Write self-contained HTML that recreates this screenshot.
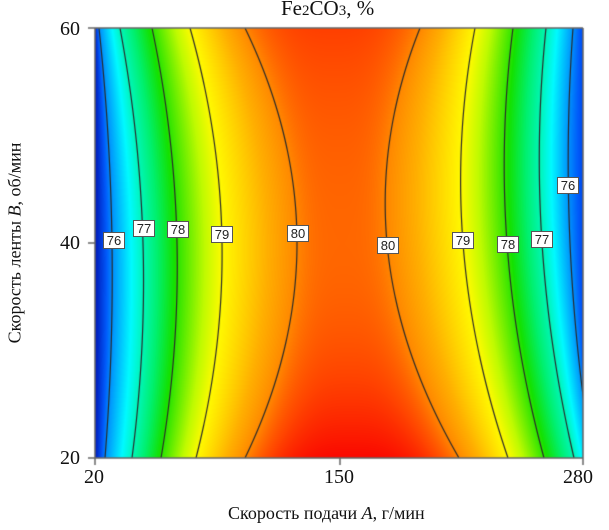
<!DOCTYPE html>
<html><head><meta charset="utf-8"><style>
body{margin:0;background:#fff;width:609px;height:530px;overflow:hidden;position:relative;font-family:"Liberation Serif",serif;}
canvas{position:absolute;left:0;top:0}
.t{position:absolute;font-size:19px;color:#111;white-space:nowrap}
.lb{position:absolute;background:#fff;border:1px solid #555;font:13px "Liberation Sans",sans-serif;width:20px;height:15px;line-height:15px;text-align:center;color:#222}
</style></head><body>
<canvas id="c" width="609" height="530"></canvas>
<div class="t" style="left:281px;top:-4px;font-size:21px">Fe<span style="font-size:15px">2</span>CO<span style="font-size:15px">3</span>, %</div>
<div class="t" style="left:60px;top:18px;font-size:20px">60</div>
<div class="t" style="left:60px;top:232px;font-size:20px">40</div>
<div class="t" style="left:60px;top:447px;font-size:20px">20</div>
<div class="t" style="left:84px;top:466px;font-size:20px">20</div>
<div class="t" style="left:324px;top:466px;font-size:20px">150</div>
<div class="t" style="left:563px;top:466px;font-size:20px">280</div>
<div class="t" style="left:228px;top:503px;font-size:18px">Скорость подачи <i>A</i>, г/мин</div>
<div class="t" style="left:15px;top:243px;font-size:18px;transform:translate(-50%,-50%) rotate(-90deg)">Скорость ленты <i>B</i>, об/мин</div>
<div class="lb" style="left:103px;top:232px">76</div>
<div class="lb" style="left:133px;top:220px">77</div>
<div class="lb" style="left:167px;top:221px">78</div>
<div class="lb" style="left:211px;top:226px">79</div>
<div class="lb" style="left:287px;top:225px">80</div>
<div class="lb" style="left:377px;top:237px">80</div>
<div class="lb" style="left:452px;top:232px">79</div>
<div class="lb" style="left:497px;top:236px">78</div>
<div class="lb" style="left:531px;top:231px">77</div>
<div class="lb" style="left:557px;top:177px">76</div>
<script>
const c=document.getElementById('c').getContext('2d');
const X0=95,X1=583,Y0=28,Y1=458,YM=243;
const L=[[76,99,112,105],[77,120,143,132],[78,152,177,161],[79,190,222,196],[80,245,297,245]];
const R=[[80,420,387,459],[79,475,463,508],[78,513,507,544],[77,546,542,574],[76,573,570,592]];
function qx(a,y){
 const tt=(y<YM)?(y-YM)/(YM-Y0):(y-YM)/(Y1-YM);
 const A=(a[1]+a[3])/2-a[2],B=(a[3]-a[1])/2;return a[2]+B*tt+A*tt*tt;}
const stops=[[75.2,[0,30,190]],[75.7,[0,90,250]],[76.6,[0,250,255]],[77.4,[0,240,110]],[77.9,[20,225,0]],[78.6,[190,250,0]],[79,[255,250,0]],[79.6,[255,175,0]],[80,[255,135,0]],[80.5,[255,70,0]],[81,[250,0,0]]];
function col(v){if(v<=stops[0][0])return stops[0][1];for(let i=1;i<stops.length;i++){if(v<=stops[i][0]){const a=stops[i-1],b=stops[i],f=(v-a[0])/(b[0]-a[0]);return a[1].map((q,k)=>q+(b[1][k]-q)*f);}}return stops[stops.length-1][1];}
const img=c.createImageData(X1-X0,Y1-Y0);
for(let y=Y0;y<Y1;y++){
 const pts=[[X0-1,75.1]];
 L.forEach(a=>pts.push([qx(a,y),a[0]]));
 const l80=qx(L[4],y),r80=qx(R[0],y);
 const tt=(y<YM)?(y-YM)/(YM-Y0):(y-YM)/(Y1-YM);
 const peak=80.25+(tt<0?0.3:0.7)*tt*tt;
 const rp=[];R.forEach(a=>rp.push([qx(a,y),a[0]]));rp.push([X1+1,75.5]);
 for(let x=X0;x<X1;x++){let v;
  if(x>l80&&x<r80){const cx=(l80+r80)/2,h=(r80-l80)/2,s=1-((x-cx)/h)**2;v=80+(peak-80)*(1-(1-s)**1.5);}
  else{const arr=x<=l80?pts.concat([[l80+0.001,80]]):[[r80-0.001,80]].concat(rp);
   v=arr[arr.length-1][1];
   for(let i=1;i<arr.length;i++){if(x<=arr[i][0]){const a=arr[i-1],b=arr[i];v=a[1]+(b[1]-a[1])*(x-a[0])/(b[0]-a[0]);break;}}}
  const cc=col(v),o=((y-Y0)*(X1-X0)+(x-X0))*4;img.data[o]=cc[0];img.data[o+1]=cc[1];img.data[o+2]=cc[2];img.data[o+3]=255;}
}
c.putImageData(img,X0,Y0);
c.save();c.beginPath();c.rect(X0,Y0,X1-X0,Y1-Y0);c.clip();
c.strokeStyle='#2a2a2a';c.lineWidth=1.2;
L.concat(R).forEach(a=>{c.beginPath();for(let y=Y0;y<=Y1;y+=2){const x=qx(a,y);y==Y0?c.moveTo(x,y):c.lineTo(x,y);}c.stroke();});
c.restore();
c.strokeStyle='#666';c.lineWidth=1.5;
c.beginPath();c.moveTo(X0,Y0);c.lineTo(X0,Y1);c.lineTo(X1,Y1);c.lineTo(X1,Y0);
c.moveTo(88,Y0);c.lineTo(X1,Y0);
c.moveTo(88,YM);c.lineTo(X0,YM);c.moveTo(88,Y1);c.lineTo(X0,Y1);
c.moveTo(X0,Y1);c.lineTo(X0,Y1+7);c.moveTo(340,Y1);c.lineTo(340,Y1+7);c.moveTo(X1,Y1);c.lineTo(X1,Y1+7);
c.stroke();
</script>
</body></html>
